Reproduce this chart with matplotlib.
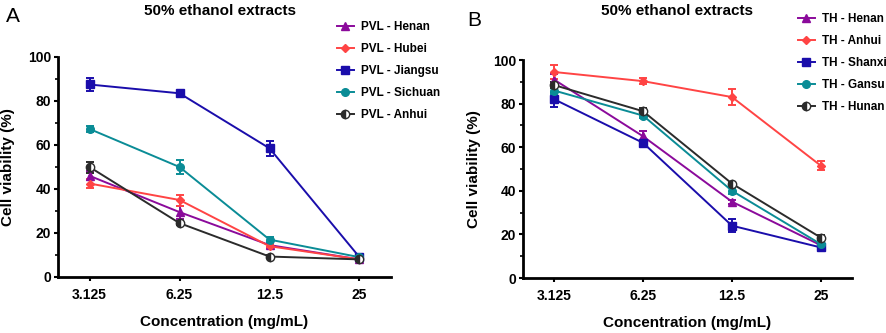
import matplotlib
matplotlib.use("Agg")
import matplotlib.pyplot as plt
from matplotlib.ticker import MultipleLocator

plt.rcParams['font.family'] = ['Liberation Sans', 'DejaVu Sans']
plt.rcParams['font.weight'] = 'bold'

concentrations = ["3.125", "6.25", "12.5", "25"]

# Panel A
pvl_names = ["PVL - Henan", "PVL - Hubei", "PVL - Jiangsu", "PVL - Sichuan", "PVL - Anhui"]
pvl_henan = [46, 29.5, 14.5, 8]
pvl_henan_err = [2, 3, 1, 0.5]
pvl_hubei = [42.5, 35, 14, 8]
pvl_hubei_err = [2, 2.5, 1, 0.5]
pvl_jiangsu = [87.5, 83.5, 58.5, 9]
pvl_jiangsu_err = [3, 0.5, 3.5, 0.5]
pvl_sichuan = [67.3, 50, 17, 9]
pvl_sichuan_err = [1.5, 3, 1, 0.5]
pvl_anhui = [50, 24.5, 9.3, 8]
pvl_anhui_err = [2.5, 1, 0.5, 0.5]

# Panel B
th_names = ["TH - Henan", "TH - Anhui", "TH - Shanxi", "TH - Gansu", "TH - Hunan"]
th_henan = [91, 65, 35, 15]
th_henan_err = [2.5, 2.5, 1, 1]
th_anhui = [94.5, 90.3, 83, 51.5]
th_anhui_err = [3, 1.5, 3.5, 2]
th_shanxi = [82, 62, 24, 14]
th_shanxi_err = [3.5, 1.5, 3, 1]
th_gansu = [86, 74.5, 40, 15.5]
th_gansu_err = [1.5, 1, 1.5, 0.5]
th_hunan = [88.5, 76.5, 43.3, 18.5]
th_hunan_err = [1.5, 1.5, 0.8, 1]

colors = ["#8B0A9B", "#FF4444", "#1A0DAB", "#0A8C96", "#2B2B2B"]
styles = [
    dict(marker="^", ms=6),
    dict(marker="D", ms=4),
    dict(marker="s", ms=5.5),
    dict(marker="o", ms=5.5),
    dict(marker="o", ms=6, fillstyle="left", markerfacecoloralt="white"),
]

fig = plt.figure(figsize=(8.86, 3.33), dpi=100)
axA = fig.add_axes([58/886, 56/333, 333/886, 220/333])
axB = fig.add_axes([523/886, 55/333, 329/886, 218/333])

def draw(ax, names, vals, errs, legend_anchor, ylab_x, xlab_y):
    x = list(range(len(concentrations)))
    handles = []
    for name, v, e, c, st in zip(names, vals, errs, colors, styles):
        h = ax.errorbar(x, v, yerr=e, color=c, lw=1.4, capsize=3, capthick=1.4,
                        elinewidth=1.4, markeredgecolor=c, markerfacecolor=c,
                        label=name, **st)
        handles.append(h.lines[0])
    ax.set_xlim(-0.35, 3.35)
    ax.set_ylim(0, 100)
    ax.set_xticks(x)
    ax.set_xticklabels(concentrations)
    ax.yaxis.set_major_locator(MultipleLocator(20))
    ax.yaxis.set_minor_locator(MultipleLocator(10))
    for s in ["top", "right"]:
        ax.spines[s].set_visible(False)
    for s in ["left", "bottom"]:
        ax.spines[s].set_linewidth(2)
    ax.tick_params(axis="both", which="major", width=1.5, length=3, labelsize=10, pad=2)
    ax.tick_params(axis="y", which="minor", width=1.2, length=2)
    ax.tick_params(axis="x", pad=5)
    for lab in ax.get_xticklabels() + ax.get_yticklabels():
        lab.set_fontweight("bold")
    ax.set_xlabel("Concentration (mg/mL)", fontsize=11, fontweight="bold", va="center")
    ax.set_ylabel("Cell viability (%)", fontsize=11, fontweight="bold", va="center")
    ax.xaxis.set_label_coords(0.5, xlab_y)
    ax.yaxis.set_label_coords(ylab_x, 0.5)
    leg = ax.legend(handles=handles, labels=names, loc="upper left", bbox_to_anchor=legend_anchor,
                    bbox_transform=fig.transFigure, frameon=False, fontsize=8.5,
                    handlelength=1.4, handletextpad=0.6, labelspacing=0.85, borderpad=0,
                    borderaxespad=0)
    for t in leg.get_texts():
        t.set_fontweight("bold")

draw(axA, pvl_names,
     [pvl_henan, pvl_hubei, pvl_jiangsu, pvl_sichuan, pvl_anhui],
     [pvl_henan_err, pvl_hubei_err, pvl_jiangsu_err, pvl_sichuan_err, pvl_anhui_err],
     (337/886, 1 - 21/333), -0.15, -0.205)
draw(axB, th_names,
     [th_henan, th_anhui, th_shanxi, th_gansu, th_hunan],
     [th_henan_err, th_anhui_err, th_shanxi_err, th_gansu_err, th_hunan_err],
     (798/886, 1 - 13/333), -0.149, -0.206)

fig.text(220/886, 1 - 11/333, "50% ethanol extracts", ha="center", va="center",
         fontsize=11, fontweight="bold")
fig.text(677/886, 1 - 11/333, "50% ethanol extracts", ha="center", va="center",
         fontsize=11, fontweight="bold")
fig.text(6/886, 1 - 17/333, "A", ha="left", va="center", fontsize=15, fontweight="normal")
fig.text(467/886, 1 - 20/333, "B", ha="left", va="center", fontsize=15, fontweight="normal")

fig.savefig("out.png", dpi=100)
